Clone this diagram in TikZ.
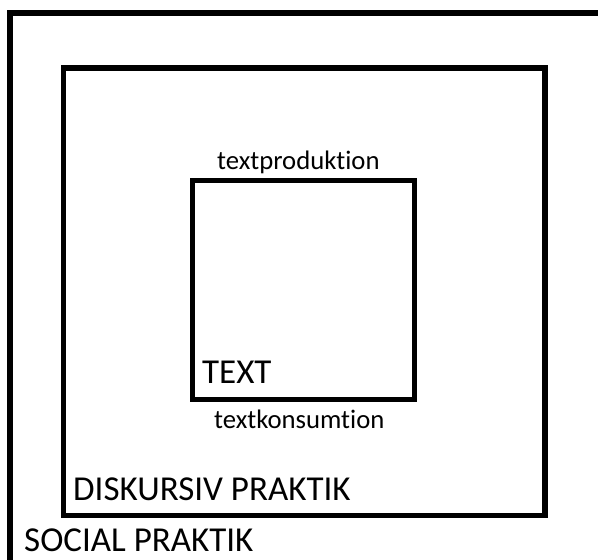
\documentclass[tikz,border=0pt]{standalone}
\usepackage{fontspec}
\setmainfont[Ligatures={NoCommon}]{Carlito}
\tikzset{
  box/.style={draw=black, line width=5.5pt, fill=none},
  small/.style={inner sep=0pt, anchor=base west, font=\fontsize{26.7}{32}\selectfont},
  big/.style={inner sep=0pt, anchor=base west, font=\fontsize{35}{42}\selectfont},
}
\begin{document}
\begin{tikzpicture}[x=1pt,y=-1pt]
\useasboundingbox (0,0) rectangle (598,560);
\clip (0,0) rectangle (598,560);
\draw[box] (10,13) rectangle (640,620);
\draw[box] (63.5,68) rectangle (545,515.5);
\node[box, minimum width=222pt, minimum height=219pt, inner sep=0pt, outer sep=0pt, anchor=north west] (textbox) at (192.5,180.5) {};
\node[small] (prod) at (217,169) {textproduktion};
\node[small] (kons) at (214,428.3) {textkonsumtion};
\node[big] (text) at (202,383.3) {TEXT};
\node[big] (disk) at (73,500.7) {DISKURSIV PRAKTIK};
\node[big] (soc) at (24,551.7) {SOCIAL PRAKTIK};
\end{tikzpicture}
\end{document}
